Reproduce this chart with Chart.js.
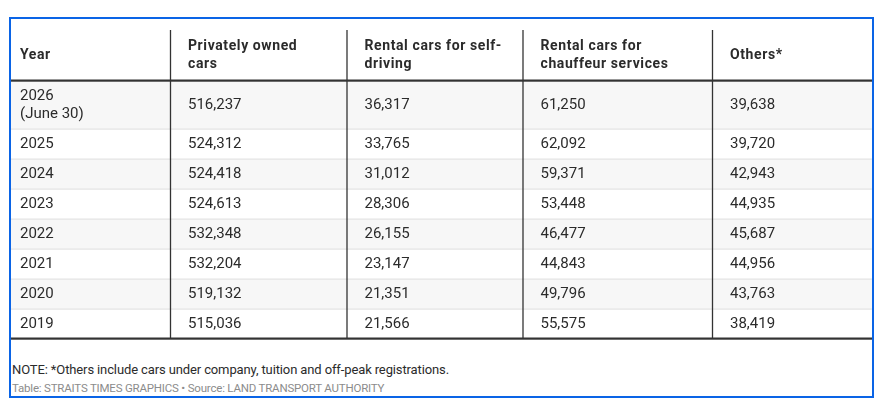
<!DOCTYPE html>
<html>
<head>
<meta charset="utf-8">
<script src="https://cdn.jsdelivr.net/npm/chart.js@4.4.1/dist/chart.umd.min.js"></script>
<style>
  html, body { margin: 0; padding: 0; background: #fff; }
  body { width: 883px; height: 408px; position: relative; overflow: hidden; font-family: Roboto, sans-serif; }
  .frame { position: absolute; left: 9px; top: 17px; width: 865px; height: 381px; border: 2px solid #0a64e6; box-sizing: border-box; }
  .table-wrap { position: absolute; left: 11px; top: 30px; width: 861px; height: 310px; }
  .note { position: absolute; left: 12px; top: 362px; font-size: 13px; letter-spacing: -0.12px; line-height: 16px; color: #2b2b2b; white-space: nowrap; }
  .source { position: absolute; left: 12px; top: 381px; font-size: 11.5px; letter-spacing: -0.2px; line-height: 14px; color: #8c8c8c; white-space: nowrap; }
</style>
</head>
<body>
<div class="frame"></div>
<div class="table-wrap"><canvas id="table-canvas" width="861" height="310"></canvas></div>
<div class="note">NOTE: *Others include cars under company, tuition and off-peak registrations.</div>
<div class="source">Table: STRAITS TIMES GRAPHICS &bull; Source: LAND TRANSPORT AUTHORITY</div>
<script>
// table data
const headers = ['Year', ['Privately owned', 'cars'], ['Rental cars for self-', 'driving'], ['Rental cars for', 'chauffeur services'], 'Others*'];
const years = [['2026', '(June 30)'], '2025', '2024', '2023', '2022', '2021', '2020', '2019'];
const privatelyOwned = [516237, 524312, 524418, 524613, 532348, 532204, 519132, 515036];
const selfDrive = [36317, 33765, 31012, 28306, 26155, 23147, 21351, 21566];
const chauffeur = [61250, 62092, 59371, 53448, 46477, 44843, 49796, 55575];
const others = [39638, 39720, 42943, 44935, 45687, 44956, 43763, 38419];

// layout
const COL_WIDTHS = [159.5, 176.5, 176, 189.5, 159.5];
const COL_PAD = [9, 17.5, 17.5, 17.5, 17.5];
const LINE_H = 18;
const HEAD_H = 50;
const ROW_PAD = 12;

const columns = [years, privatelyOwned, selfDrive, chauffeur, others];
const fmt = (v) => typeof v === 'number' ? v.toLocaleString('en-US') : v;
const asLines = (v) => Array.isArray(v) ? v : [fmt(v)];

const colEdges = [0];
COL_WIDTHS.forEach((w) => colEdges.push(colEdges[colEdges.length - 1] + w));

const rowEdges = [HEAD_H + 1];
years.forEach((y) => {
  rowEdges.push(rowEdges[rowEdges.length - 1] + ROW_PAD + LINE_H * asLines(y).length);
});
const totalW = colEdges[colEdges.length - 1];
const totalH = rowEdges[rowEdges.length - 1] + 1;

function drawLines(ctx, lines, x, yCenter, yScale) {
  const n = lines.length;
  lines.forEach((t, i) => {
    const yy = yScale.getPixelForValue(yCenter + (i - (n - 1) / 2) * LINE_H);
    ctx.fillText(t, x, yy);
  });
}

const tablePlugin = {
  id: 'tablePlugin',
  afterDraw(chart) {
    const ctx = chart.ctx;
    const xs = chart.scales.x;
    const ys = chart.scales.y;
    const px = (v) => xs.getPixelForValue(v);
    const py = (v) => ys.getPixelForValue(v);
    ctx.save();

    // row bands + separators
    years.forEach((y, r) => {
      const top = py(rowEdges[r]);
      const bottom = py(rowEdges[r + 1]);
      if (r % 2 === 0) {
        ctx.fillStyle = '#f7f7f7';
        ctx.fillRect(px(0), top, px(totalW) - px(0), bottom - top);
      }
      if (r > 0) {
        ctx.fillStyle = '#e3e3e3';
        ctx.fillRect(px(0), top - 0.5, px(totalW) - px(0), 1.2);
      }
    });

    // vertical rules
    ctx.strokeStyle = '#333';
    ctx.lineWidth = 1.3;
    colEdges.slice(1, -1).forEach((e) => {
      ctx.beginPath();
      ctx.moveTo(px(e), py(0));
      ctx.lineTo(px(e), py(rowEdges[rowEdges.length - 1]));
      ctx.stroke();
    });

    // thick header / bottom rules
    ctx.fillStyle = '#333';
    ctx.fillRect(px(0), py(HEAD_H) - 0.5, px(totalW) - px(0), 2.2);
    ctx.fillRect(px(0), py(rowEdges[rowEdges.length - 1]) - 1.5, px(totalW) - px(0), 2.2);

    // header text
    ctx.textBaseline = 'middle';
    ctx.textAlign = 'left';
    ctx.fillStyle = '#2b2b2b';
    ctx.font = 'bold 14px Roboto';
    if ('letterSpacing' in ctx) ctx.letterSpacing = '0.6px';
    headers.forEach((h, c) => {
      drawLines(ctx, asLines(h), px(colEdges[c] + COL_PAD[c]), HEAD_H / 2, ys);
    });
    if ('letterSpacing' in ctx) ctx.letterSpacing = '0px';

    // body text
    ctx.font = '15px Roboto';
    ctx.fillStyle = '#2b2b2b';
    columns.forEach((col, c) => {
      col.forEach((v, r) => {
        const mid = (rowEdges[r] + rowEdges[r + 1]) / 2;
        drawLines(ctx, asLines(v), px(colEdges[c] + COL_PAD[c]), mid, ys);
      });
    });
    ctx.restore();
  }
};

const chart = new Chart(document.getElementById('table-canvas'), {
  type: 'scatter',
  data: { datasets: [] },
  options: {
    responsive: false,
    animation: false,
    events: [],
    layout: { padding: 0 },
    plugins: { legend: { display: false }, tooltip: { enabled: false } },
    scales: {
      x: { type: 'linear', min: 0, max: totalW, display: false },
      y: { type: 'linear', min: 0, max: totalH, reverse: true, display: false }
    }
  },
  plugins: [tablePlugin]
});
</script>
</body>
</html>
